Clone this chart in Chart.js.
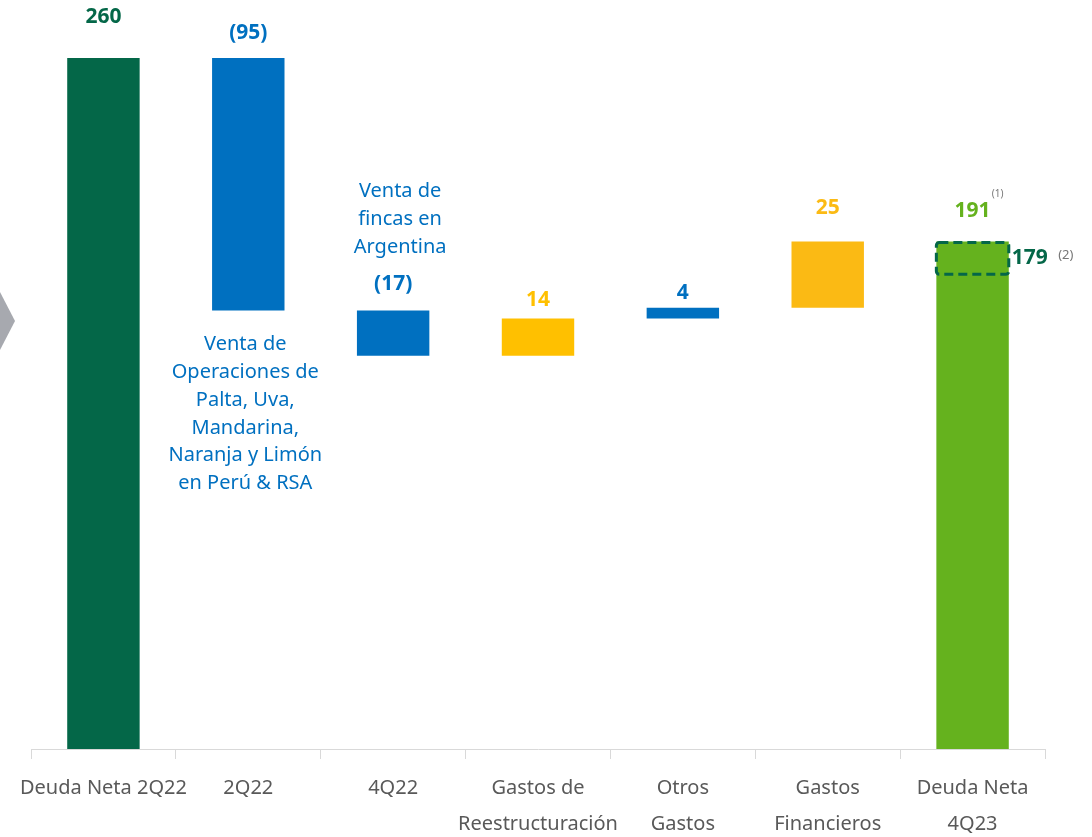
<!DOCTYPE html>
<html>
<head>
<meta charset="utf-8">
<script src="https://cdn.jsdelivr.net/npm/chart.js@4"></script>
<style>
  body { margin: 0; background: #fff; }
  #wrap { width: 1092px; height: 837px; position: relative; }
</style>
</head>
<body>
<div id="wrap"><canvas id="bridgeChart"></canvas></div>
<script>
const categories = [
  ["Deuda Neta 2Q22"],
  ["2Q22"],
  ["4Q22"],
  ["Gastos de", "Reestructuración"],
  ["Otros", "Gastos"],
  ["Gastos", "Financieros"],
  ["Deuda Neta", "4Q23"]
];
const barBase = [0, 165, 148, 148, 162, 166, 0];
const barTop = [260, 260, 165, 162, 166, 191, 191];
const valueLabels = ["260", "(95)", "(17)", "14", "4", "25", "191"];
const adjustedDebt = 179;

const barColors = ["#046748", "#0070C0", "#0070C0", "#FFC000", "#0070C0", "#FBBA14", "#65B21E"];
const labelColors = ["#046748", "#0070C0", "#0070C0", "#FFC000", "#0070C0", "#FBBA14", "#65B21E"];
// distance from bar top to label centre, px
const labelLift = [41, 25, 26, 18, 15, 33, 30];

const FONT = "'Noto Sans', 'Open Sans', sans-serif";

const annotations = {
  id: "annotations",
  afterDatasetsDraw(chart) {
    const ctx = chart.ctx;
    const meta = chart.getDatasetMeta(0);
    const y = chart.scales.y;

    ctx.save();
    // grey chevron on the left edge
    ctx.fillStyle = "#A7A9AF";
    ctx.beginPath();
    ctx.moveTo(0, 292);
    ctx.lineTo(15, 321);
    ctx.lineTo(0, 350);
    ctx.closePath();
    ctx.fill();

    // value labels
    ctx.textAlign = "center";
    ctx.textBaseline = "middle";
    ctx.font = "bold 21px " + FONT;
    meta.data.forEach((bar, i) => {
      ctx.fillStyle = labelColors[i];
      ctx.fillText(valueLabels[i], bar.x, y.getPixelForValue(barTop[i]) - labelLift[i]);
    });

    // notes
    ctx.font = "20px " + FONT;
    ctx.fillStyle = "#0070C0";
    const note1 = ["Venta de", "Operaciones de", "Palta, Uva,", "Mandarina,", "Naranja y Limón", "en Perú & RSA"];
    const b1 = meta.data[1];
    let y0 = y.getPixelForValue(barBase[1]) + 34;
    note1.forEach((t, k) => ctx.fillText(t, b1.x - 3, y0 + k * 27.8));

    const note2 = ["Venta de", "fincas en", "Argentina"];
    const b2 = meta.data[2];
    y0 = y.getPixelForValue(barTop[2]) - 119;
    note2.forEach((t, k) => ctx.fillText(t, b2.x + 7, y0 + k * 28));

    // dashed box for adjusted debt on the last bar
    const last = meta.data[6];
    const half = last.width / 2;
    const top = y.getPixelForValue(barTop[6]);
    const bot = y.getPixelForValue(adjustedDebt);
    ctx.strokeStyle = "#046748";
    ctx.lineWidth = 3;
    ctx.setLineDash([9, 5]);
    ctx.beginPath();
    ctx.roundRect(last.x - half, top + 1, half * 2, bot - top, 3);
    ctx.stroke();
    ctx.setLineDash([]);

    ctx.font = "bold 21px " + FONT;
    ctx.fillStyle = "#046748";
    ctx.textAlign = "left";
    ctx.fillText(String(adjustedDebt), last.x + half + 3, (top + bot) / 2 + 1);

    // footnote marks
    ctx.fillStyle = "#777";
    ctx.font = "10px " + FONT;
    ctx.textAlign = "center";
    ctx.fillText("(1)", last.x + 25, top - 47);
    ctx.font = "13px " + FONT;
    ctx.fillText("(2)", last.x + half + 57, top + 14);
    ctx.restore();
  }
};

new Chart(document.getElementById("bridgeChart"), {
  type: "bar",
  data: {
    labels: categories,
    datasets: [{
      data: barBase.map((b, i) => [b, barTop[i]]),
      backgroundColor: barColors,
      borderWidth: 0,
      categoryPercentage: 1,
      barPercentage: 0.5
    }]
  },
  options: {
    responsive: true,
    maintainAspectRatio: false,
    animation: false,
    layout: { padding: { top: 58, left: 31, right: 47, bottom: -16 } },
    plugins: {
      legend: { display: false },
      tooltip: { enabled: false }
    },
    scales: {
      y: { display: false, min: 0, max: 260 },
      x: {
        grid: {
          display: true,
          drawOnChartArea: false,
          drawTicks: true,
          tickLength: 10,
          color: "#D9D9D9"
        },
        border: { color: "#D9D9D9" },
        ticks: {
          autoSkip: false,
          maxRotation: 0,
          minRotation: 0,
          padding: 11,
          color: "#595959",
          font: { family: FONT, size: 20, lineHeight: 1.8 }
        }
      }
    }
  },
  plugins: [annotations]
});
</script>
</body>
</html>
